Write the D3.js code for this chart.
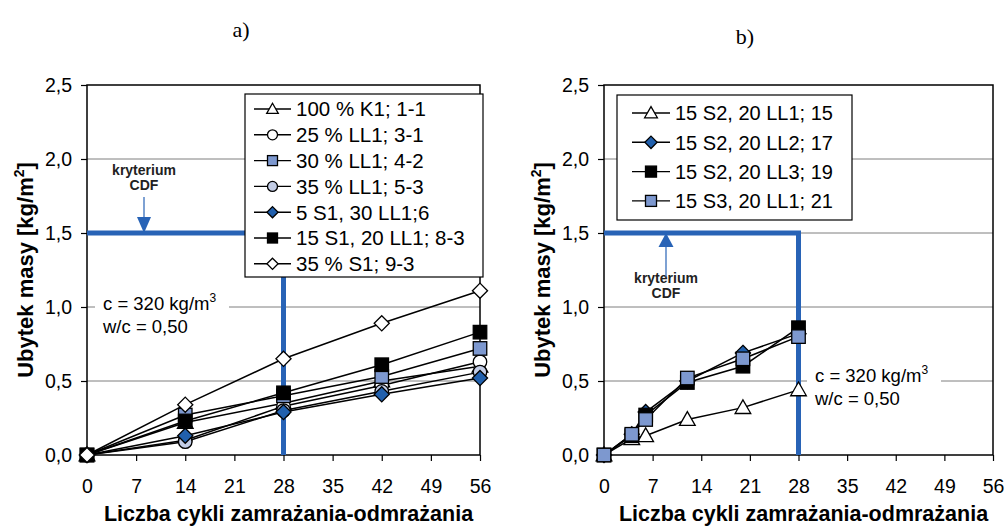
<!DOCTYPE html>
<html>
<head>
<meta charset="utf-8">
<script src="https://cdn.jsdelivr.net/npm/d3@7"></script>
<style>
  html, body { margin: 0; padding: 0; background: #fff; }
  svg { display: block; font-family: "Liberation Sans", Arial, sans-serif; }
</style>
</head>
<body>
<svg id="chart" width="1007" height="527"></svg>
<script>
// Mass loss vs. freeze-thaw cycles, two panels
const xTicks = [0, 7, 14, 21, 28, 35, 42, 49, 56];
const yTicks = [0, 0.5, 1.0, 1.5, 2.0, 2.5];

// Panel a)
const cyclesA = [0, 14, 28, 42, 56];
const labelsA = ["100 % K1; 1-1", "25 % LL1; 3-1", "30 % LL1; 4-2", "35 % LL1; 5-3",
                 "5 S1, 30 LL1;6", "15 S1, 20 LL1; 8-3", "35 % S1; 9-3"];
const k1_1   = [0, 0.22, 0.35, 0.50, 0.60];
const ll1_3  = [0, 0.10, 0.33, 0.47, 0.63];
const ll1_4  = [0, 0.27, 0.40, 0.53, 0.72];
const ll1_5  = [0, 0.09, 0.30, 0.43, 0.56];
const s1ll_6 = [0, 0.13, 0.29, 0.41, 0.52];
const s1ll_8 = [0, 0.23, 0.42, 0.61, 0.83];
const s1_9   = [0, 0.34, 0.65, 0.89, 1.11];

// Panel b)
const cyclesB = [0, 4, 6, 12, 20, 28];
const labelsB = ["15 S2, 20 LL1; 15", "15 S2, 20 LL2; 17", "15 S2, 20 LL3; 19", "15 S3, 20 LL1; 21"];
const s2ll1_15 = [0, 0.11, 0.13, 0.24, 0.32, 0.44];
const s2ll2_17 = [0, 0.14, 0.29, 0.50, 0.69, 0.82];
const s2ll3_19 = [0, 0.13, 0.27, 0.49, 0.60, 0.86];
const s3ll1_21 = [0, 0.14, 0.24, 0.52, 0.65, 0.80];

const criterion = 1.5, criterionCycles = 28;

const BLUE = "#2863b6";
const styles = {
  triangle:   { shape: "triangle", fill: "#fff" },
  circle:     { shape: "circle",   fill: "#fff" },
  bluesquare: { shape: "square",   fill: "#7d98cf" },
  lightcirc:  { shape: "circle",   fill: "#c3cde6" },
  bluediam:   { shape: "diamond",  fill: "#2160ad" },
  blacksq:    { shape: "square",   fill: "#000" },
  diamond:    { shape: "diamond",  fill: "#fff" }
};

const seriesA = [
  { name: labelsA[0], values: k1_1,   st: styles.triangle },
  { name: labelsA[1], values: ll1_3,  st: styles.circle },
  { name: labelsA[2], values: ll1_4,  st: styles.bluesquare },
  { name: labelsA[3], values: ll1_5,  st: styles.lightcirc },
  { name: labelsA[4], values: s1ll_6, st: styles.bluediam },
  { name: labelsA[5], values: s1ll_8, st: styles.blacksq },
  { name: labelsA[6], values: s1_9,   st: styles.diamond }
];
const seriesB = [
  { name: labelsB[0], values: s2ll1_15, st: styles.triangle },
  { name: labelsB[1], values: s2ll2_17, st: styles.bluediam },
  { name: labelsB[2], values: s2ll3_19, st: styles.blacksq },
  { name: labelsB[3], values: s3ll1_21, st: styles.bluesquare }
];

const svg = d3.select("#chart");

function marker(g, st, x, y, size) {
  const s = size;
  let el;
  if (st.shape === "square") {
    el = g.append("rect").attr("x", x - s / 2).attr("y", y - s / 2).attr("width", s).attr("height", s);
  } else if (st.shape === "circle") {
    el = g.append("circle").attr("cx", x).attr("cy", y).attr("r", s / 2);
  } else if (st.shape === "diamond") {
    const h = s * 0.56;
    el = g.append("path").attr("d", `M${x},${y - h}L${x + h},${y}L${x},${y + h}L${x - h},${y}Z`);
  } else {
    const h = s * 0.58;
    el = g.append("path").attr("d", `M${x},${y - h}L${x + h},${y + h * 0.75}L${x - h},${y + h * 0.75}Z`);
  }
  el.attr("fill", st.fill).attr("stroke", "#000").attr("stroke-width", 1.3);
}

function panel(opt) {
  const x = d3.scaleLinear().domain([0, 56]).range([opt.left, opt.right]);
  const y = d3.scaleLinear().domain([0, 2.5]).range([opt.bottom, opt.top]);
  const g = svg.append("g");

  // horizontal gridlines
  g.append("g").selectAll("line").data(yTicks.filter(v => v > 0 && v < 2.5)).join("line")
    .attr("x1", opt.left).attr("x2", opt.right)
    .attr("y1", d => y(d)).attr("y2", d => y(d))
    .attr("stroke", "#7f7f7f").attr("stroke-width", 1);

  // axes
  const yAxis = d3.axisLeft(y).tickValues(yTicks).tickSize(6).tickPadding(9)
    .tickFormat(d => d3.format(".1f")(d).replace(".", ","));
  const gy = g.append("g").attr("transform", `translate(${opt.left},0)`).call(yAxis);
  const xAxis = d3.axisBottom(x).tickValues(xTicks).tickSize(6).tickPadding(18);
  const gx = g.append("g").attr("transform", `translate(0,${opt.bottom})`).call(xAxis);
  [gx, gy].forEach(a => {
    a.select(".domain").remove();
    a.selectAll(".tick line").attr("stroke", "#000").attr("stroke-width", 1.2);
    a.selectAll("text").attr("font-size", 19.5).attr("fill", "#000")
      .attr("font-family", "Liberation Sans, Arial, sans-serif");
  });

  // plot frame
  g.append("rect").attr("x", opt.left).attr("y", opt.top)
    .attr("width", opt.right - opt.left).attr("height", opt.bottom - opt.top)
    .attr("fill", "none").attr("stroke", "#000").attr("stroke-width", 1.5);

  // axis titles
  g.append("text").attr("x", (opt.left + opt.right) / 2 + 5).attr("y", 521)
    .attr("text-anchor", "middle").attr("font-weight", "bold").attr("font-size", 21.5)
    .text("Liczba cykli zamrażania-odmrażania");
  const yt = g.append("text").attr("transform", `translate(${opt.left - 54},${(opt.top + opt.bottom) / 2}) rotate(-90)`)
    .attr("text-anchor", "middle").attr("font-weight", "bold").attr("font-size", 22);
  yt.append("tspan").text("Ubytek masy  [kg/m");
  yt.append("tspan").attr("dy", -9).attr("font-size", 14).text("2");
  yt.append("tspan").attr("dy", 9).text("]");

  // panel label
  g.append("text").attr("x", opt.titleX).attr("y", opt.titleY).attr("text-anchor", "middle")
    .attr("font-family", "Liberation Serif, Times New Roman, serif").attr("font-size", 22)
    .text(opt.title);

  // CDF criterion
  g.append("path")
    .attr("d", `M${x(0)},${y(criterion)}H${x(criterionCycles)}V${y(0)}`)
    .attr("fill", "none").attr("stroke", BLUE).attr("stroke-width", 5);

  // note box
  const nb = g.append("g");
  nb.append("rect").attr("x", opt.noteX - 8).attr("y", opt.noteY - 18)
    .attr("width", 134).attr("height", 46).attr("fill", "#fff");
  const t1 = nb.append("text").attr("x", opt.noteX).attr("y", opt.noteY).attr("font-size", 18.5);
  t1.append("tspan").text("c = 320 kg/m");
  t1.append("tspan").attr("dy", -8).attr("font-size", 12).text("3");
  nb.append("text").attr("x", opt.noteX).attr("y", opt.noteY + 23).attr("font-size", 18.5).text("w/c = 0,50");

  // criterion label + arrow
  const ax = opt.arrowX;
  const ac = g.append("g");
  ac.append("text").attr("x", ax).attr("y", opt.critTextY).attr("text-anchor", "middle")
    .attr("font-weight", "bold").attr("font-size", 14).attr("fill", "#222").text("kryterium");
  ac.append("text").attr("x", ax).attr("y", opt.critTextY + 15).attr("text-anchor", "middle")
    .attr("font-weight", "bold").attr("font-size", 14).attr("fill", "#222").text("CDF");
  const yc = y(criterion);
  if (opt.arrowDown) {
    ac.append("line").attr("x1", ax).attr("x2", ax).attr("y1", yc - 36).attr("y2", yc - 14)
      .attr("stroke", BLUE).attr("stroke-width", 1.2);
    ac.append("path").attr("d", `M${ax - 7},${yc - 16}L${ax + 7},${yc - 16}L${ax},${yc}Z`).attr("fill", BLUE);
  } else {
    ac.append("line").attr("x1", ax).attr("x2", ax).attr("y1", yc + 12).attr("y2", yc + 44)
      .attr("stroke", BLUE).attr("stroke-width", 1.2);
    ac.append("path").attr("d", `M${ax - 7.5},${yc + 14}L${ax + 7.5},${yc + 14}L${ax},${yc}Z`).attr("fill", BLUE);
  }

  // series lines then markers
  const line = d3.line().x(d => x(d[0])).y(d => y(d[1]));
  opt.series.forEach(s => {
    const pts = opt.cycles.map((c, i) => [c, s.values[i]]);
    g.append("path").attr("d", line(pts)).attr("fill", "none")
      .attr("stroke", "#000").attr("stroke-width", 1.5);
  });
  opt.series.forEach(s => {
    const mg = g.append("g");
    opt.cycles.forEach((c, i) => marker(mg, s.st, x(c), y(s.values[i]), 13.5));
  });

  // legend
  const lg = g.append("g");
  lg.append("rect").attr("x", opt.leg.x).attr("y", opt.leg.y).attr("width", opt.leg.w).attr("height", opt.leg.h)
    .attr("fill", "#fff").attr("stroke", "#000").attr("stroke-width", 1.2);
  opt.series.forEach((s, i) => {
    const cy = opt.leg.y + opt.leg.first + i * opt.leg.step;
    const lx = opt.leg.x + opt.leg.pad;
    lg.append("line").attr("x1", lx).attr("x2", lx + opt.leg.lineW).attr("y1", cy).attr("y2", cy)
      .attr("stroke", "#000").attr("stroke-width", 1.4);
    marker(lg, s.st, lx + opt.leg.lineW / 2, cy, opt.leg.ms);
    lg.append("text").attr("x", lx + opt.leg.lineW + 5).attr("y", cy + opt.leg.fs * 0.36)
      .attr("font-size", opt.leg.fs).text(s.name);
  });
}

panel({
  left: 87, right: 480, top: 85, bottom: 455,
  title: "a)", titleX: 241, titleY: 37,
  cycles: cyclesA, series: seriesA,
  noteX: 103, noteY: 310,
  arrowX: 144, arrowDown: true, critTextY: 175,
  leg: { x: 245, y: 94, w: 238, h: 183, first: 15, step: 25.8, pad: 9, lineW: 37, ms: 10, fs: 20.5 }
});

panel({
  left: 604, right: 993, top: 85, bottom: 455,
  title: "b)", titleX: 745, titleY: 44,
  cycles: cyclesB, series: seriesB,
  noteX: 815, noteY: 382,
  arrowX: 666, arrowDown: false, critTextY: 283,
  leg: { x: 617, y: 95, w: 235, h: 125, first: 18, step: 29.3, pad: 15, lineW: 38, ms: 11, fs: 20 }
});
</script>
</body>
</html>
